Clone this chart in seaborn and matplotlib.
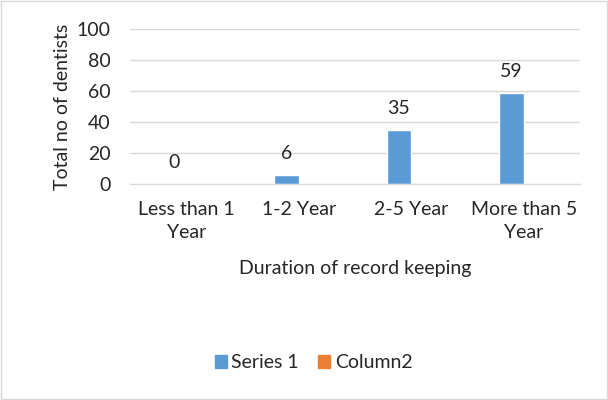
import matplotlib
matplotlib.use('Agg')
import matplotlib.pyplot as plt
import seaborn as sns
import pandas as pd
from matplotlib.patches import Patch, Rectangle

categorias = ['Less than 1\nYear', '1-2 Year', '2-5 Year', 'More than 5\nYear']
series_1 = [0, 6, 35, 59]
column2 = [0, 0, 0, 0]  # serie vacia en el original
series = ['Series 1', 'Column2']
colores = ['#5B9BD5', '#ED7D31']

df = pd.DataFrame({
    'cat': categorias * 2,
    'valor': series_1 + column2,
    'serie': [series[0]] * 4 + [series[1]] * 4,
})

sns.set_style('white')
plt.rcParams['font.family'] = ['Lato', 'DejaVu Sans']
fs = 14
txt = '#262626'

fig = plt.figure(figsize=(6.08, 4.0), dpi=100)
ax = fig.add_axes([130 / 608, 1 - 184 / 400, 450 / 608, 155 / 400])

sns.barplot(data=df, x='cat', y='valor', hue='serie', hue_order=series,
            palette=colores, width=0.44, ax=ax, legend=False, saturation=1)

# etiquetas solo para la primera serie
ax.bar_label(ax.containers[0], labels=[str(v) for v in series_1],
             padding=9, fontsize=fs, color=txt)

ax.set_ylim(0, 100)
ax.set_yticks(range(0, 101, 20))
ax.set_xlim(-0.5, 3.5)
ax.yaxis.grid(True, color='#D9D9D9', lw=1)
ax.set_axisbelow(True)
for s in ['top', 'right', 'left']:
    ax.spines[s].set_visible(False)
ax.spines['bottom'].set_color('#D9D9D9')
ax.tick_params(axis='both', length=0, labelsize=fs, colors=txt)
ax.tick_params(axis='y', pad=14)
ax.tick_params(axis='x', pad=12)
for t in ax.get_xticklabels():
    t.set_linespacing(1.45)
ax.set_xlabel('Duration of record keeping', fontsize=fs, color=txt, labelpad=14)
ax.set_ylabel('Total no of dentists', fontsize=fs, color=txt, labelpad=4)

handles = [Patch(color=c, label=s) for c, s in zip(colores, series)]
fig.legend(handles=handles, loc='center', bbox_to_anchor=(0.516, 0.0925), ncol=2,
           frameon=False, fontsize=fs, handlelength=0.6, handleheight=0.6,
           handletextpad=0.25, columnspacing=1.0, labelcolor=txt)

# borde del grafico
fig.patches.append(Rectangle((0.002, 0.002), 0.996, 0.996, transform=fig.transFigure,
                             fill=False, edgecolor='#D9D9D9', lw=1))

fig.savefig('out.png', dpi=100)
